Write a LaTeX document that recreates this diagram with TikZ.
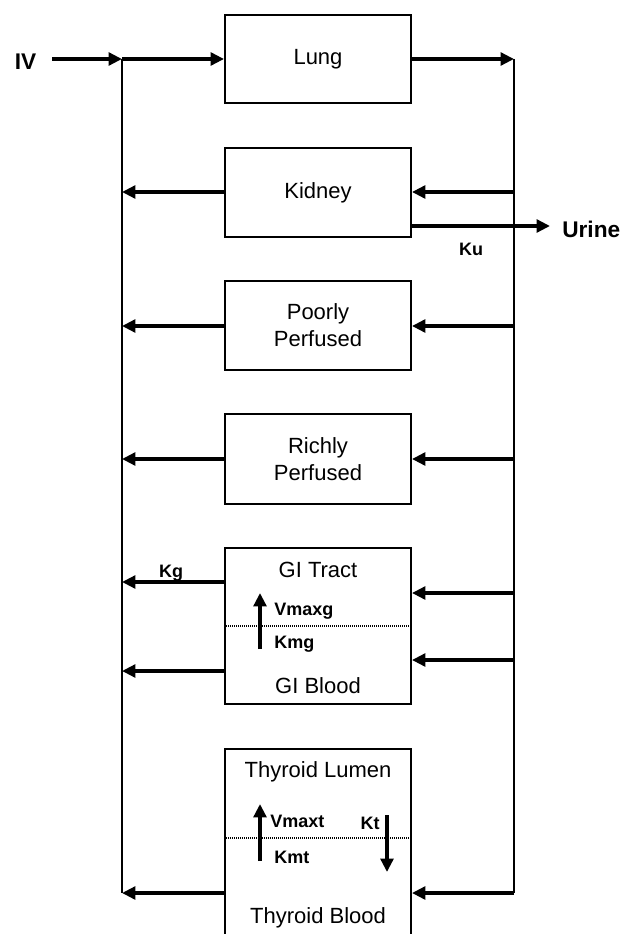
\documentclass[tikz,border=0pt]{standalone}
\usepackage{fontspec}
\setmainfont{Liberation Sans}
\usetikzlibrary{arrows.meta}
\begin{document}
\begin{tikzpicture}[x=0.75pt,y=-0.75pt,
  box/.style={draw, line width=1.45pt, minimum width=139.5pt, inner sep=0pt,
    font=\fontsize{16.5}{20.3}\selectfont, align=center},
  arr/.style={line width=2.6pt, -{Triangle[length=10pt,width=9.5pt]}},
  vline/.style={line width=1.3pt},
  lbl/.style={font=\fontsize{16.5}{20}\selectfont, inner sep=0pt},
  small/.style={font=\bfseries\fontsize{13.5}{16}\selectfont, inner sep=0pt},
  big/.style={font=\bfseries\fontsize{17}{20}\selectfont, inner sep=0pt},
  dots/.style={line width=1.2pt, dash pattern=on 0.75pt off 0.75pt}]
\clip (0,0) rectangle (621,934);

% boxes
\node[box, minimum height=66pt] (lung) at (318,59) {Lung};
\node[box, minimum height=66.75pt] (kidney) at (318,192.5) {Kidney};
\node[box, minimum height=66.75pt] (poor) at (318,325.5) {Poorly\\Perfused};
\node[box, minimum height=67.5pt] (rich) at (318,459) {Richly\\Perfused};
\node[box, minimum height=117pt] (gi) at (318,626) {};
\node[box, minimum height=158pt] (thy) at (318,854.5) {};

% labels inside boxes
\node[lbl, anchor=base] (git) at (318,577) {GI Tract};
\node[lbl, anchor=base] (gib) at (318,693) {GI Blood};
\node[lbl, anchor=base] (thl) at (318,777) {Thyroid Lumen};
\node[lbl, anchor=base] (thb) at (318,923) {Thyroid Blood};

% dotted membranes
\draw[dots] (gi.west) -- (gi.east);
\coordinate (tm) at (318,838);
\draw[dots] (thy.west |- tm) -- (thy.east |- tm);

% outside labels
\node[big, anchor=base] (iv) at (25.5,70) {IV};
\node[big, anchor=base west] (urine) at (562,238) {Urine};
\node[small, anchor=base] (ku) at (471,255) {Ku};
\node[small, anchor=base] (kg) at (171,577) {Kg};
\node[small, anchor=base west] (vmaxg) at (274,615) {Vmaxg};
\node[small, anchor=base west] (kmg) at (274,648) {Kmg};
\node[small, anchor=base west] (vmaxt) at (270,827) {Vmaxt};
\node[small, anchor=base west] (kmt) at (274,863) {Kmt};
\node[small, anchor=base] (kt) at (370,829) {Kt};

% coordinates on the vertical lines
\coordinate (L0) at (122,59);   \coordinate (R0) at (514,59);
\coordinate (L1) at (122,192);  \coordinate (R1) at (514,192);
\coordinate (L2) at (122,326);  \coordinate (R2) at (514,326);
\coordinate (L3) at (122,459);  \coordinate (R3) at (514,459);
\coordinate (L4) at (122,582);  \coordinate (R4) at (514,593);
\coordinate (L5) at (122,671);  \coordinate (R5) at (514,660);
\coordinate (L6) at (122,893);  \coordinate (R6) at (514,893);
\coordinate (ivs) at (52,59);
\coordinate (utip) at (550,226);

% vertical lines
\draw[vline] (L0) -- (L6);
\draw[vline] (R0) -- (R6);

% flows
\draw[arr] (ivs) -- (L0);
\draw[arr] (L0) -- (lung.west |- L0);
\draw[arr] (lung.east |- R0) -- (R0);

\draw[arr] (R1) -- (kidney.east |- R1);
\draw[arr] (kidney.west |- L1) -- (L1);
\draw[arr] (kidney.east |- utip) -- (utip);

\draw[arr] (R2) -- (poor.east |- R2);
\draw[arr] (poor.west |- L2) -- (L2);

\draw[arr] (R3) -- (rich.east |- R3);
\draw[arr] (rich.west |- L3) -- (L3);

\draw[arr] (R4) -- (gi.east |- R4);
\draw[arr] (R5) -- (gi.east |- R5);
\draw[arr] (gi.west |- L4) -- (L4);
\draw[arr] (gi.west |- L5) -- (L5);

\draw[arr] (R6) -- (thy.east |- R6);
\draw[arr] (thy.west |- L6) -- (L6);

% transport arrows inside compartments
\coordinate (g0) at (260,649); \coordinate (g1) at (260,593);
\draw[arr] (g0) -- (g1);
\coordinate (t0) at (260,861); \coordinate (t1) at (260,804);
\draw[arr] (t0) -- (t1);
\coordinate (k0) at (387,815); \coordinate (k1) at (387,872);
\draw[arr] (k0) -- (k1);
\end{tikzpicture}
\end{document}
